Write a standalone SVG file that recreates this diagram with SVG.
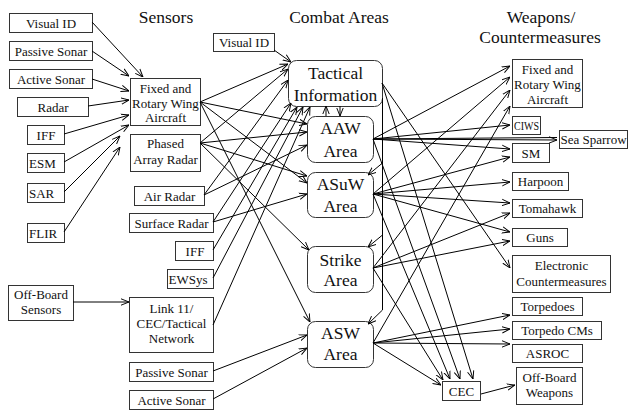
<svg xmlns="http://www.w3.org/2000/svg" width="628" height="414" viewBox="0 0 628 414">
<style>
.b{fill:#fff;stroke:#333;stroke-width:1}
.t{font-family:Liberation Serif,Tinos,DejaVu Serif,serif;font-size:13px;text-anchor:middle;fill:#111}
.s{text-anchor:start}
.g{font-size:17.5px}
.c{stroke:#000;stroke-width:1;fill:none;marker-end:url(#a)}
.n{stroke:#000;stroke-width:1;fill:none}
</style>
<defs>
<marker id="a" viewBox="0 0 10 10" refX="10" refY="5" markerWidth="8" markerHeight="8" markerUnits="userSpaceOnUse" orient="auto"><path d="M0,1 L10,5 L0,9" fill="none" stroke="#000" stroke-width="1.2"/></marker>
</defs>
<rect width="628" height="414" fill="#fff"/>
<g id="titles">
<text class="t g" x="166" y="23">Sensors</text>
<text class="t g" x="339" y="23">Combat Areas</text>
<text class="t g" x="541" y="23">Weapons/</text>
<text class="t g" x="540" y="43">Countermeasures</text>
</g>
<g id="s-visualid"><rect class="b" x="9.5" y="13.5" width="83" height="19"/><text class="t" x="51" y="27.5">Visual ID</text></g>
<g id="s-passive"><rect class="b" x="9.5" y="41.5" width="83" height="19"/><text class="t" x="51" y="55.5">Passive Sonar</text></g>
<g id="s-active"><rect class="b" x="9.5" y="69.5" width="83" height="19"/><text class="t" x="51" y="83.5">Active Sonar</text></g>
<g id="s-radar"><rect class="b" x="17.5" y="97.5" width="71" height="19"/><text class="t" x="53" y="111.5">Radar</text></g>
<g id="s-iff"><rect class="b" x="27.5" y="125.5" width="37" height="19"/><text class="t" x="46" y="139.5">IFF</text></g>
<g id="s-esm"><rect class="b" x="27.5" y="153.5" width="37" height="19"/><text class="t s" x="29" y="167.5">ESM</text></g>
<g id="s-sar"><rect class="b" x="27.5" y="183.5" width="37" height="19"/><text class="t s" x="29" y="197.5">SAR</text></g>
<g id="s-flir"><rect class="b" x="27.5" y="223.5" width="37" height="19"/><text class="t s" x="29" y="237.5">FLIR</text></g>
<g id="s-offboard"><rect class="b" x="8.5" y="285.5" width="65" height="35"/><text class="t" x="41" y="298.5">Off-Board</text><text class="t" x="41" y="313.5">Sensors</text></g>
<g id="s-frwa"><rect class="b" x="130.5" y="78.5" width="70" height="47"/><text class="t" x="165.5" y="92.5">Fixed and</text><text class="t" x="165.5" y="107.5">Rotary Wing</text><text class="t" x="165.5" y="122">Aircraft</text></g>
<g id="s-phased"><rect class="b" x="130.5" y="134.5" width="70" height="37"/><text class="t" x="165.5" y="147.5">Phased</text><text class="t" x="165.5" y="163.5">Array Radar</text></g>
<g id="s-airradar"><rect class="b" x="134.5" y="186.5" width="70" height="19"/><text class="t" x="169.5" y="200.5">Air Radar</text></g>
<g id="s-surfradar"><rect class="b" x="129.5" y="213.5" width="84" height="19"/><text class="t" x="171.5" y="227.5">Surface Radar</text></g>
<g id="s-iff2"><rect class="b" x="175.5" y="241.5" width="38" height="19"/><text class="t" x="195" y="255.5">IFF</text></g>
<g id="s-ewsys"><rect class="b" x="167.5" y="269.5" width="46" height="19"/><text class="t s" x="168.5" y="283.5">EWSys</text></g>
<g id="s-link11"><rect class="b" x="129.5" y="297.5" width="84" height="55"/><text class="t" x="171.5" y="312.5">Link 11/</text><text class="t" x="171.5" y="327.5">CEC/Tactical</text><text class="t" x="171.5" y="342.5">Network</text></g>
<g id="s-passive2"><rect class="b" x="129.5" y="362.5" width="84" height="19"/><text class="t" x="171.5" y="376.5">Passive Sonar</text></g>
<g id="s-active2"><rect class="b" x="129.5" y="390.5" width="84" height="19"/><text class="t" x="171.5" y="404.5">Active Sonar</text></g>
<g id="s-visualid2"><rect class="b" x="213.5" y="33.5" width="61" height="18"/><text class="t" x="244" y="46.5">Visual ID</text></g>
<g id="c-tactical"><rect class="b" x="288.5" y="60.5" width="94" height="46" rx="8"/><text class="t g" x="335.5" y="79.3">Tactical</text><text class="t g" x="335.5" y="101">Information</text></g>
<g id="c-aaw"><rect class="b" x="307.5" y="116.5" width="66" height="46" rx="8"/><text class="t g" x="340.5" y="134.3">AAW</text><text class="t g" x="340.5" y="156.7">Area</text></g>
<g id="c-asuw"><rect class="b" x="307.5" y="172.5" width="66" height="45" rx="8"/><text class="t g" x="340.5" y="190">ASuW</text><text class="t g" x="340.5" y="211.7">Area</text></g>
<g id="c-strike"><rect class="b" x="307.5" y="246.5" width="66" height="46" rx="8"/><text class="t g" x="340.5" y="265.7">Strike</text><text class="t g" x="340.5" y="286">Area</text></g>
<g id="c-asw"><rect class="b" x="307.5" y="321.5" width="66" height="46" rx="8"/><text class="t g" x="340.5" y="339.3">ASW</text><text class="t g" x="340.5" y="360">Area</text></g>
<g id="w-frwa"><rect class="b" x="512.5" y="59.5" width="70" height="48"/><text class="t" x="547.5" y="73.5">Fixed and</text><text class="t" x="547.5" y="89">Rotary Wing</text><text class="t" x="547.5" y="104">Aircraft</text></g>
<g id="w-ciws"><rect class="b" x="512.5" y="116.5" width="28" height="18"/><text class="t" x="526.5" y="130" textLength="25" lengthAdjust="spacingAndGlyphs">CIWS</text></g>
<g id="w-seasparrow"><rect class="b" x="559.5" y="130.5" width="68" height="18"/><text class="t" x="593.5" y="144">Sea Sparrow</text></g>
<g id="w-sm"><rect class="b" x="512.5" y="143.5" width="37" height="19"/><text class="t" x="531" y="157.5">SM</text></g>
<g id="w-harpoon"><rect class="b" x="512.5" y="172.5" width="56" height="18"/><text class="t" x="540.5" y="186">Harpoon</text></g>
<g id="w-tomahawk"><rect class="b" x="512.5" y="199.5" width="70" height="18"/><text class="t" x="547.5" y="213">Tomahawk</text></g>
<g id="w-guns"><rect class="b" x="512.5" y="228.5" width="55" height="18"/><text class="t" x="540" y="242">Guns</text></g>
<g id="w-ecm"><rect class="b" x="512.5" y="255.5" width="98" height="37"/><text class="t" x="561.5" y="270">Electronic</text><text class="t" x="561.5" y="285.5">Countermeasures</text></g>
<g id="w-torpedoes"><rect class="b" x="512.5" y="297.5" width="70" height="18"/><text class="t" x="547.5" y="311">Torpedoes</text></g>
<g id="w-torpedocms"><rect class="b" x="512.5" y="321.5" width="89" height="18"/><text class="t" x="557" y="335">Torpedo CMs</text></g>
<g id="w-asroc"><rect class="b" x="512.5" y="344.5" width="70" height="18"/><text class="t" x="547.5" y="358">ASROC</text></g>
<g id="w-cec"><rect class="b" x="442.5" y="381.5" width="38" height="19"/><text class="t" x="461.5" y="396">CEC</text></g>
<g id="w-offboard"><rect class="b" x="516.5" y="367.5" width="66" height="37"/><text class="t" x="549.5" y="381.5">Off-Board</text><text class="t" x="549.5" y="396.5">Weapons</text></g>
<g id="connectors">
<line class="c" x1="92" y1="22" x2="143" y2="77"/>
<line class="c" x1="92" y1="51" x2="129" y2="76"/>
<line class="c" x1="92" y1="79" x2="129" y2="91"/>
<line class="c" x1="88" y1="106" x2="129" y2="100"/>
<line class="c" x1="64" y1="134" x2="129" y2="115"/>
<line class="c" x1="64" y1="162" x2="129" y2="125"/>
<line class="c" x1="64" y1="192" x2="120" y2="136"/>
<line class="c" x1="64" y1="232" x2="120" y2="147"/>
<line class="c" x1="73" y1="302" x2="129" y2="302"/>
<line class="c" x1="274" y1="50" x2="291" y2="62"/>
<line class="c" x1="200" y1="102" x2="288" y2="64"/>
<line class="c" x1="200" y1="102" x2="307" y2="124"/>
<line class="c" x1="200" y1="102" x2="307" y2="183"/>
<line class="c" x1="200" y1="102" x2="310" y2="322"/>
<line class="c" x1="200" y1="143" x2="288" y2="69"/>
<line class="c" x1="200" y1="143" x2="307" y2="132"/>
<line class="c" x1="200" y1="143" x2="307" y2="176"/>
<line class="c" x1="200" y1="143" x2="309" y2="250"/>
<line class="c" x1="204" y1="195" x2="288" y2="80"/>
<line class="c" x1="204" y1="195" x2="307" y2="145"/>
<line class="c" x1="213" y1="222" x2="291" y2="103"/>
<line class="c" x1="213" y1="222" x2="307" y2="194"/>
<line class="c" x1="213" y1="250" x2="297" y2="107"/>
<line class="c" x1="213" y1="278" x2="303" y2="107"/>
<line class="c" x1="213" y1="325" x2="310" y2="107"/>
<line class="c" x1="213" y1="371" x2="307" y2="335"/>
<line class="c" x1="213" y1="399" x2="307" y2="348"/>
<line class="c" x1="326" y1="116" x2="326" y2="106"/>
<line class="c" x1="340" y1="106" x2="340" y2="116"/>
<path class="c" d="M382.5,98 V310 L368,324"/>
<line class="c" x1="382.5" y1="163" x2="368" y2="175"/>
<line class="c" x1="382.5" y1="235" x2="368" y2="247"/>
<line class="c" x1="382" y1="83" x2="510" y2="268"/>
<line class="c" x1="382" y1="83" x2="473" y2="379"/>
<line class="c" x1="373" y1="139" x2="510" y2="66"/>
<line class="c" x1="373" y1="139" x2="510" y2="125"/>
<line class="n" x1="373" y1="139" x2="557" y2="137.5"/>
<line class="c" x1="373" y1="139" x2="557" y2="140"/>
<line class="c" x1="373" y1="139" x2="510" y2="149"/>
<line class="c" x1="373" y1="139" x2="460" y2="379"/>
<line class="c" x1="373" y1="194" x2="510" y2="77"/>
<line class="c" x1="373" y1="194" x2="510" y2="157"/>
<line class="c" x1="373" y1="194" x2="510" y2="182"/>
<line class="c" x1="373" y1="194" x2="510" y2="203"/>
<line class="c" x1="373" y1="194" x2="510" y2="232"/>
<line class="c" x1="373" y1="194" x2="450" y2="379"/>
<line class="c" x1="373" y1="268" x2="510" y2="90"/>
<line class="c" x1="373" y1="268" x2="510" y2="213"/>
<line class="c" x1="373" y1="268" x2="510" y2="241"/>
<line class="c" x1="373" y1="268" x2="443" y2="380"/>
<line class="c" x1="373" y1="343" x2="510" y2="106"/>
<line class="c" x1="373" y1="343" x2="510" y2="315"/>
<line class="c" x1="373" y1="343" x2="510" y2="329"/>
<line class="c" x1="373" y1="343" x2="510" y2="344"/>
<line class="c" x1="373" y1="343" x2="441" y2="385"/>
<line class="c" x1="481" y1="394" x2="515" y2="385"/>
</g>
</svg>
